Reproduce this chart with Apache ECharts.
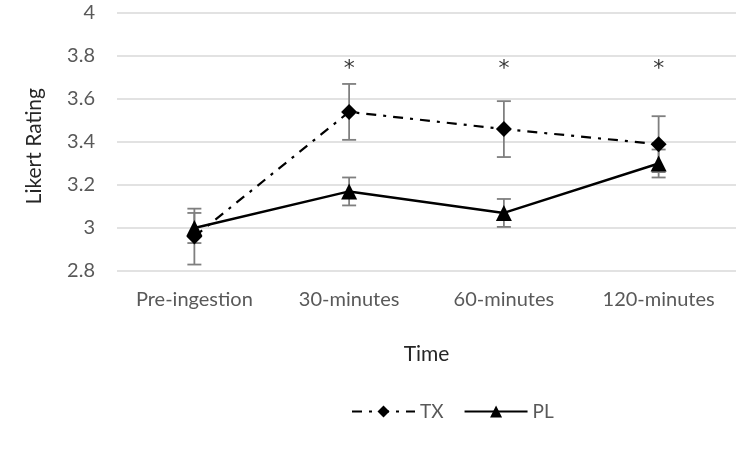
<!DOCTYPE html>
<html><head><meta charset="utf-8">
<script src="https://cdn.jsdelivr.net/npm/echarts@6/dist/echarts.min.js"></script>
<style>html,body{margin:0;padding:0;background:#fff}#c{width:750px;height:449px}</style>
</head><body><div id="c"></div>
<script>
const categories = ['Pre-ingestion', '30-minutes', '60-minutes', '120-minutes'];
const txValues = [2.96, 3.54, 3.46, 3.39];
const txErr = [0.13, 0.13, 0.13, 0.13];
const plValues = [3.00, 3.17, 3.07, 3.30];
const plErr = [0.07, 0.065, 0.065, 0.065];
const sigLabels = ['', '*', '*', '*'];
const sigLevel = 3.74;
const yTicks = [2.8, 3, 3.2, 3.4, 3.6, 3.8, 4];

const FONT = 'Lato';
const chart = echarts.init(document.getElementById('c'));

function errSeries(name, vals, errs) {
  return {
    type: 'custom', name: name + '_err', z: 1, silent: true,
    data: vals.map((v, i) => [i, v - errs[i], v + errs[i]]),
    renderItem: function (params, api) {
      const lo = api.coord([api.value(0), api.value(1)]);
      const hi = api.coord([api.value(0), api.value(2)]);
      const w = 7;
      const st = { stroke: '#7f7f7f', lineWidth: 1.8 };
      return { type: 'group', children: [
        { type: 'line', shape: { x1: lo[0], y1: lo[1], x2: hi[0], y2: hi[1] }, style: st },
        { type: 'line', shape: { x1: lo[0] - w, y1: lo[1], x2: lo[0] + w, y2: lo[1] }, style: st },
        { type: 'line', shape: { x1: hi[0] - w, y1: hi[1], x2: hi[0] + w, y2: hi[1] }, style: st }
      ]};
    }
  };
}

chart.setOption({
  animation: false,
  textStyle: { fontFamily: FONT },
  grid: { left: 117, right: 14, top: 13, bottom: 178 },
  graphic: [{
    type: 'text', left: 24, top: 88, rotation: Math.PI / 2,
    style: { text: 'Likert Rating', font: '21px Lato', fill: '#262626' }
  }],
  legend: {
    top: 397, left: 346, itemWidth: 63, itemHeight: 15, itemGap: 20,
    data: ['TX', 'PL'],
    textStyle: { fontFamily: FONT, fontSize: 19, color: '#595959' }
  },
  xAxis: {
    type: 'category', data: categories, boundaryGap: true,
    name: 'Time', nameLocation: 'middle', nameGap: 73,
    nameTextStyle: { fontFamily: FONT, fontSize: 21, color: '#262626' },
    axisLine: { show: false }, axisTick: { show: false },
    axisLabel: { fontFamily: FONT, fontSize: 20, color: '#595959', margin: 19 }
  },
  yAxis: {
    type: 'value', min: 2.8, max: 4, interval: 0.2,
    axisLine: { show: false }, axisTick: { show: false },
    splitLine: { lineStyle: { color: '#d9d9d9', width: 1.5 } },
    axisLabel: { fontFamily: FONT, fontSize: 20, color: '#595959', margin: 22,
      formatter: v => { const t = yTicks.find(x => Math.abs(x - v) < 1e-6); return t === undefined ? '' : String(t); } }
  },
  series: [
    errSeries('TX', txValues, txErr),
    errSeries('PL', plValues, plErr),
    {
      name: 'TX', type: 'line', data: txValues, z: 3,
      symbol: 'diamond', symbolSize: 16, showAllSymbol: true,
      itemStyle: { color: '#000' },
      lineStyle: { color: '#000', width: 2.2, type: [10, 7, 3, 7] }
    },
    {
      name: 'PL', type: 'line', data: plValues, z: 4,
      symbol: 'triangle', symbolSize: 16,
      itemStyle: { color: '#000' },
      lineStyle: { color: '#000', width: 2.4 }
    },
    {
      name: 'sig', type: 'scatter', symbolSize: 0, z: 5, silent: true,
      data: sigLabels.map((s, i) => s ? [i, sigLevel] : null).filter(d => d),
      label: { show: true, position: 'inside', formatter: '*', fontFamily: 'DejaVu Sans', fontSize: 22, color: '#000' }
    }
  ]
});
</script></body></html>
